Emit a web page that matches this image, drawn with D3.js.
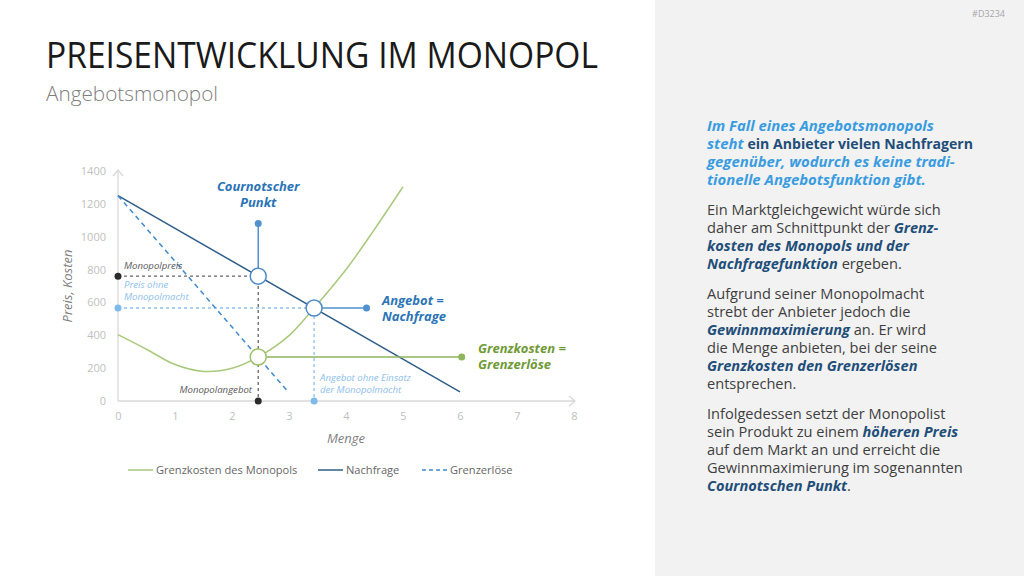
<!DOCTYPE html>
<html>
<head>
<meta charset="utf-8">
<script src="https://cdn.jsdelivr.net/npm/d3@7"></script>
<style>
	body { margin: 0; background: #fff; }
	svg { display: block; font-family: 'Open Sans', sans-serif; }
</style>
</head>
<body>
<div id="chart"></div>
<script>
// Achsen
var mengeTicks = [0, 1, 2, 3, 4, 5, 6, 7, 8],
	preisTicks = [0, 200, 400, 600, 800, 1000, 1200, 1400];

// Kurven [Menge, Preis]
var grenzkosten = [[0, 404], [0.5, 315], [1, 222], [1.5, 180], [2, 199], [2.46, 268], [3, 398], [3.44, 566], [4, 800], [4.5, 1045], [5, 1304]],
	nachfrage = [[0, 1250], [6, 55]],
	grenzerloese = [[0, 1250], [3, 50]];

// Markante Punkte
var cournotMenge = 2.46,
	monopolpreis = 760,
	grenzkostenCournot = 268,
	gleichgewichtMenge = 3.44,
	gleichgewichtPreis = 566,
	cournotLabelPreis = 1080,
	gleichgewichtLabelMenge = 4.36,
	grenzkostenLabelMenge = 6.03;

var legendNames = ["Grenzkosten des Monopols", "Nachfrage", "Grenzerlöse"];

// Fließtext rechts: [text, stil] mit l = hellblau fett kursiv, d = dunkelblau fett kursiv, b = dunkelblau fett, n = normal
var textLines = [
	[["Im Fall eines Angebotsmonopols", "l"]],
	[["steht ", "l"], ["ein Anbieter vielen Nachfragern", "b"]],
	[["gegenüber, wodurch es keine tradi-", "l"]],
	[["tionelle Angebotsfunktion gibt.", "l"]],
	null,
	[["Ein Marktgleichgewicht würde sich", "n"]],
	[["daher am Schnittpunkt der ", "n"], ["Grenz-", "d"]],
	[["kosten des Monopols und der", "d"]],
	[["Nachfragefunktion", "d"], [" ergeben.", "n"]],
	null,
	[["Aufgrund seiner Monopolmacht", "n"]],
	[["strebt der Anbieter jedoch die", "n"]],
	[["Gewinnmaximierung", "d"], [" an. Er wird", "n"]],
	[["die Menge anbieten, bei der seine", "n"]],
	[["Grenzkosten den Grenzerlösen", "d"]],
	[["entsprechen.", "n"]],
	null,
	[["Infolgedessen setzt der Monopolist", "n"]],
	[["sein Produkt zu einem ", "n"], ["höheren Preis", "d"]],
	[["auf dem Markt an und erreicht die", "n"]],
	[["Gewinnmaximierung im sogenannten", "n"]],
	[["Cournotschen Punkt", "d"], [".", "n"]]
];

var colors = {
	green: "#a9c97c",
	greenDark: "#6f9a37",
	demand: "#2f5d89",
	mr: "#3f89cc",
	blue: "#2b74b6",
	light: "#8fc1ea",
	dark: "#2b2b2b",
	axis: "#d9d9d9",
	tick: "#c0c0c0"
};

var width = 1024, height = 576;

var svg = d3.select("#chart").append("svg")
	.attr("width", width)
	.attr("height", height);

// Hintergrund + rechte Spalte
svg.append("rect").attr("width", width).attr("height", height).attr("fill", "#fff");
svg.append("rect").attr("x", 655).attr("width", width - 655).attr("height", height).attr("fill", "#f2f2f2");

svg.append("text")
	.attr("x", 1005).attr("y", 17)
	.attr("text-anchor", "end")
	.style("font-size", "9px").style("fill", "#a6a6a6")
	.text("#D3234");

svg.append("text")
	.attr("x", 46).attr("y", 68)
	.attr("textLength", 552).attr("lengthAdjust", "spacingAndGlyphs")
	.style("font-size", "36px").style("fill", "#1a1a1a")
	.text("PREISENTWICKLUNG IM MONOPOL");

svg.append("text")
	.attr("x", 46).attr("y", 101)
	.attr("textLength", 172).attr("lengthAdjust", "spacingAndGlyphs")
	.style("font-size", "20px").style("fill", "#808080").style("font-weight", 300)
	.text("Angebotsmonopol");

// Skalen
var x = d3.scaleLinear().domain([0, 8]).range([118, 574]),
	y = d3.scaleLinear().domain([0, 1400]).range([401, 171]);

var line = d3.line().x(function(d) { return x(d[0]); }).y(function(d) { return y(d[1]); });

var g = svg.append("g");

var xAxis = g.append("g")
	.attr("transform", "translate(0," + y(0) + ")")
	.call(d3.axisBottom(x).tickValues(mengeTicks).tickSize(0).tickPadding(11));
var yAxis = g.append("g")
	.attr("transform", "translate(" + x(0) + ",0)")
	.call(d3.axisLeft(y).tickValues(preisTicks).tickFormat(d3.format("d")).tickSize(0).tickPadding(12));

[xAxis, yAxis].forEach(function(a) {
	a.select(".domain").remove();
	a.selectAll("text")
		.style("font-family", "'Open Sans', sans-serif")
		.style("font-size", "11px")
		.style("fill", colors.tick);
});

// Achsenlinien mit Pfeilen
g.append("path")
	.attr("d", "M" + x(0) + "," + y(0) + "H" + (x(8) + 1) + "M" + (x(8) - 5) + "," + (y(0) - 5) + "L" + (x(8) + 1) + "," + y(0) + "L" + (x(8) - 5) + "," + (y(0) + 5))
	.attr("fill", "none").attr("stroke", colors.axis).attr("stroke-width", 1.3);
g.append("path")
	.attr("d", "M" + x(0) + "," + y(0) + "V" + (y(1400) - 1) + "M" + (x(0) - 5) + "," + (y(1400) + 5) + "L" + x(0) + "," + (y(1400) - 1) + "L" + (x(0) + 5) + "," + (y(1400) + 5))
	.attr("fill", "none").attr("stroke", colors.axis).attr("stroke-width", 1.3);

g.append("text")
	.attr("transform", "translate(72," + y(700) + ") rotate(-90)")
	.attr("text-anchor", "middle")
	.style("font-size", "13px").style("font-style", "italic").style("fill", "#7f7f7f")
	.text("Preis, Kosten");

g.append("text")
	.attr("x", x(4)).attr("y", 443)
	.attr("text-anchor", "middle")
	.style("font-size", "13px").style("font-style", "italic").style("fill", "#7f7f7f")
	.text("Menge");

// Hilfslinien (gestrichelt)
function dashed(points, color, dash) {
	g.append("path")
		.attr("d", line(points))
		.attr("fill", "none")
		.attr("stroke", color)
		.attr("stroke-width", 1.3)
		.attr("stroke-dasharray", dash);
}
dashed([[0, monopolpreis], [cournotMenge, monopolpreis], [cournotMenge, 0]], "#666", "3,3");
dashed([[0, gleichgewichtPreis], [gleichgewichtMenge, gleichgewichtPreis], [gleichgewichtMenge, 0]], colors.light, "3,3");

// Kurven
g.append("path")
	.attr("d", line.curve(d3.curveCatmullRom.alpha(0.5))(grenzkosten))
	.attr("fill", "none").attr("stroke", colors.green).attr("stroke-width", 1.5);
line.curve(d3.curveLinear);
g.append("path")
	.attr("d", line(nachfrage))
	.attr("fill", "none").attr("stroke", colors.demand).attr("stroke-width", 1.5);
g.append("path")
	.attr("d", line(grenzerloese))
	.attr("fill", "none").attr("stroke", colors.mr).attr("stroke-width", 1.5)
	.attr("stroke-dasharray", "5,4");

// Verbindungslinien zu den Beschriftungen
function connector(points, color) {
	g.append("path")
		.attr("d", line(points))
		.attr("fill", "none").attr("stroke", color).attr("stroke-width", 1.5);
	var end = points[points.length - 1];
	g.append("circle")
		.attr("cx", x(end[0])).attr("cy", y(end[1])).attr("r", 3.5)
		.attr("fill", color);
}
connector([[cournotMenge, monopolpreis], [cournotMenge, cournotLabelPreis]], "#4f92cf");
connector([[gleichgewichtMenge, gleichgewichtPreis], [gleichgewichtLabelMenge, gleichgewichtPreis]], "#4f92cf");
connector([[cournotMenge, grenzkostenCournot], [grenzkostenLabelMenge, grenzkostenCournot]], "#8fb55c");

// Punkte auf den Achsen
var axisDots = [
	[0, monopolpreis, colors.dark],
	[0, gleichgewichtPreis, "#7dbbea"],
	[cournotMenge, 0, colors.dark],
	[gleichgewichtMenge, 0, "#7dbbea"]
];
g.selectAll(".axisdot")
	.data(axisDots)
  .enter().append("circle")
	.attr("class", "axisdot")
	.attr("cx", function(d) { return x(d[0]); })
	.attr("cy", function(d) { return y(d[1]); })
	.attr("r", 3.5)
	.attr("fill", function(d) { return d[2]; });

// Schnittpunkte
var rings = [
	[cournotMenge, monopolpreis, "#4f8cc4"],
	[gleichgewichtMenge, gleichgewichtPreis, "#4f8cc4"],
	[cournotMenge, grenzkostenCournot, "#9dc06a"]
];
g.selectAll(".ring")
	.data(rings)
  .enter().append("circle")
	.attr("class", "ring")
	.attr("cx", function(d) { return x(d[0]); })
	.attr("cy", function(d) { return y(d[1]); })
	.attr("r", 8)
	.attr("fill", "#fff")
	.attr("stroke", function(d) { return d[2]; })
	.attr("stroke-width", 1.5);

// Beschriftungen
function label(px, py, lines, color, size, anchor, weight) {
	var t = g.append("text")
		.attr("x", px).attr("y", py)
		.attr("text-anchor", anchor || "start")
		.style("font-size", size + "px")
		.style("font-style", "italic")
		.style("font-weight", weight || "normal")
		.style("fill", color);
	lines.forEach(function(s, i) {
		t.append("tspan").attr("x", px).attr("dy", i ? size * 1.25 : 0).text(s);
	});
}
label(x(cournotMenge), 191, ["Cournotscher", "Punkt"], colors.blue, 13, "middle", "bold");
label(382, 305, ["Angebot =", "Nachfrage"], colors.blue, 13, "start", "bold");
label(478, 353, ["Grenzkosten =", "Grenzerlöse"], colors.greenDark, 13, "start", "bold");

label(124, 269, ["Monopolpreis"], "#595959", 9.6);
label(124, 288, ["Preis ohne", "Monopolmacht"], "#8ec0ea", 9.6);
label(252, 393, ["Monopolangebot"], "#595959", 9.6, "end");
label(320, 381, ["Angebot ohne Einsatz", "der Monopolmacht"], "#8ec0ea", 9.6);

// Legende
var legendX = [128, 318, 422],
	legendStyles = [[colors.green, null], [colors.demand, null], [colors.mr, "4,3"]];
var legend = g.selectAll(".legend")
	.data(legendNames)
  .enter().append("g")
	.attr("class", "legend")
	.attr("transform", function(d, i) { return "translate(" + legendX[i] + ",470)"; });
legend.append("line")
	.attr("x1", 0).attr("x2", 25)
	.attr("stroke", function(d, i) { return legendStyles[i][0]; })
	.attr("stroke-width", 1.5)
	.attr("stroke-dasharray", function(d, i) { return legendStyles[i][1]; });
legend.append("text")
	.attr("x", 28).attr("y", 4)
	.style("font-size", "11.1px").style("fill", "#666")
	.text(function(d) { return d; });

// Fließtext
var styles = {
	l: { fill: "#3a9ce0", weight: "bold", italic: true, size: 14.9 },
	d: { fill: "#1f4e79", weight: "bold", italic: true, size: 14.6 },
	b: { fill: "#1f4e79", weight: "bold", italic: false, size: 14.1 },
	n: { fill: "#3f3f3f", weight: "normal", italic: false, size: 14.6 }
};
var ty = 131;
textLines.forEach(function(segs) {
	if (!segs) { ty += 12; return; }
	var t = svg.append("text")
		.attr("x", 707).attr("y", ty);
	segs.forEach(function(s) {
		var st = styles[s[1]];
		t.append("tspan")
			.style("font-size", st.size + "px")
			.style("fill", st.fill)
			.style("font-weight", st.weight)
			.style("font-style", st.italic ? "italic" : "normal")
			.text(s[0]);
	});
	ty += 18;
});
</script>
</body>
</html>
